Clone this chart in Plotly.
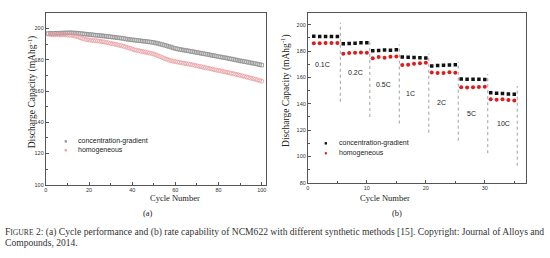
import plotly.graph_objects as go

# ---------------- (a) cycle performance ----------------
cycles_a = list(range(1, 101))
grad_a = [196.8, 196.9, 196.7, 196.9, 197.0, 196.8, 197.1, 197.0, 197.2, 197.1,
          197.3, 197.2, 197.0, 197.1, 196.9, 196.8, 196.6, 196.5, 196.3, 196.2,
          196.0, 195.9, 195.7, 195.6, 195.5, 195.3, 195.2, 195.0, 194.8, 194.7,
          194.5, 194.4, 194.1, 194.0, 193.8, 193.6, 193.3, 193.1, 192.9, 192.7,
          192.6, 192.4, 192.3, 192.1, 191.9, 191.8, 191.6, 191.4, 191.2, 191.0,
          190.7, 190.4, 190.0, 189.7, 189.3, 188.9, 188.5, 188.1, 187.6, 187.2,
          186.9, 186.6, 186.4, 186.1, 185.9, 185.7, 185.4, 185.2, 184.9, 184.6,
          184.4, 184.1, 183.9, 183.6, 183.4, 183.1, 182.8, 182.6, 182.3, 182.0,
          181.8, 181.5, 181.3, 181.0, 180.7, 180.5, 180.2, 179.9, 179.6, 179.3,
          179.1, 178.8, 178.6, 178.3, 178.0, 177.8, 177.5, 177.2, 176.9, 176.6]
homo_a = [196.4, 196.2, 196.0, 195.9, 196.1, 195.9, 195.8, 196.0, 195.9, 195.8,
          195.7, 195.6, 195.3, 195.0, 194.6, 194.1, 193.6, 193.2, 192.9, 192.6,
          192.5, 192.3, 192.2, 192.0, 191.8, 191.6, 191.4, 191.1, 190.8, 190.5,
          190.2, 190.0, 189.6, 189.3, 189.0, 188.6, 188.2, 187.7, 187.3, 186.8,
          186.4, 186.1, 185.8, 185.5, 185.2, 184.9, 184.6, 184.3, 184.0, 183.6,
          183.1, 182.6, 182.0, 181.4, 180.8, 180.3, 179.8, 179.4, 179.1, 178.8,
          178.5, 178.3, 178.0, 177.8, 177.5, 177.3, 177.0, 176.7, 176.4, 176.1,
          175.8, 175.5, 175.2, 174.9, 174.6, 174.3, 174.0, 173.7, 173.4, 173.1,
          172.8, 172.5, 172.2, 171.9, 171.6, 171.3, 171.0, 170.7, 170.4, 170.0,
          169.7, 169.3, 169.0, 168.6, 168.2, 167.9, 167.5, 167.1, 166.7, 166.3]

# ---------------- (b) rate capability ----------------
cycles_b = list(range(1, 36))
grad_b = [191.2, 191.0, 191.1, 191.0, 191.1,
          185.6, 185.8, 185.9, 186.3, 186.4,
          180.2, 180.5, 180.9, 180.7, 181.0,
          175.5, 175.4, 175.2, 175.0, 174.8,
          168.6, 169.0, 169.3, 169.4, 169.6,
          158.8, 158.7, 158.6, 158.6, 158.5,
          148.3, 148.0, 147.8, 147.5, 147.2]
homo_b = [186.0, 186.0, 186.1, 186.1, 186.2,
          178.0, 178.6, 178.8, 179.0, 178.8,
          174.5, 175.5, 175.0, 175.6, 175.8,
          169.5, 169.7, 170.3, 170.8, 171.2,
          163.8, 163.3, 163.3, 164.0, 163.5,
          152.5, 152.4, 152.5, 152.7, 153.0,
          143.4, 143.0, 143.5, 142.8, 142.4]
rate_labels = ["0.1C", "0.2C", "0.5C", "1C", "2C", "5C", "10C"]
rate_label_x = [2.5, 8.1, 12.8, 17.4, 22.6, 27.8, 33.2]
rate_label_y = [170, 164, 155, 148, 141, 132.5, 125]
sep_x = [5.5, 10.5, 15.5, 20.5, 25.5, 30.5, 35.5]
sep_top = [201.5, 188.5, 185, 178, 172, 162.5, 153.5]
sep_bottom = [141.5, 130, 125, 118, 112, 102.5, 93]

series_names = ["concentration-gradient", "homogeneous"]

W, H = 550, 258
def px_x(p): return p / W
def px_y(p): return 1 - p / H

fig = go.Figure()

fig.add_trace(go.Scatter(x=cycles_a, y=grad_a, mode="markers", xaxis="x", yaxis="y",
                         marker=dict(symbol="square-open", size=3.6, color="#8e8e8e", line=dict(width=0.8)),
                         showlegend=False, name=series_names[0]))
fig.add_trace(go.Scatter(x=cycles_a, y=homo_a, mode="markers", xaxis="x", yaxis="y",
                         marker=dict(symbol="circle-open", size=4, color="#e89aa0", line=dict(width=0.8)),
                         showlegend=False, name=series_names[1]))

# separators
sx, sy = [], []
for x, b, t in zip(sep_x, sep_bottom, sep_top):
    sx += [x, x, None]
    sy += [b, t, None]
fig.add_trace(go.Scatter(x=sx, y=sy, mode="lines", xaxis="x2", yaxis="y2",
                         line=dict(color="#a0a0a0", width=1, dash="dot"), showlegend=False,
                         hoverinfo="skip"))
fig.add_trace(go.Scatter(x=cycles_b, y=grad_b, mode="markers", xaxis="x2", yaxis="y2",
                         marker=dict(symbol="square", size=3.5, color="#111111"),
                         showlegend=False, name=series_names[0]))
fig.add_trace(go.Scatter(x=cycles_b, y=homo_b, mode="markers", xaxis="x2", yaxis="y2",
                         marker=dict(symbol="circle", size=4, color="#e01b1b"),
                         showlegend=False, name=series_names[1]))

axcol = "#555555"
tickfont = dict(family="Liberation Sans, Arial", size=5.5, color="#333")
common = dict(showline=True, linecolor=axcol, linewidth=1, mirror=True, ticks="inside",
              ticklen=3, tickcolor=axcol, tickwidth=1, showgrid=False, zeroline=False,
              tickfont=tickfont)

fig.update_layout(
    width=W, height=H, margin=dict(l=0, r=0, t=0, b=0),
    paper_bgcolor="white", plot_bgcolor="white", showlegend=False,
    xaxis=dict(domain=[px_x(44), px_x(265)], range=[0, 102], anchor="y",
               tickmode="linear", tick0=0, dtick=20,
               minor=dict(dtick=10, ticklen=2, ticks="inside", tickcolor=axcol), **common),
    yaxis=dict(domain=[px_y(187), px_y(13)], range=[100, 210], anchor="x",
               tickmode="linear", tick0=100, dtick=20,
               minor=dict(dtick=10, ticklen=2, ticks="inside", tickcolor=axcol), **common),
    xaxis2=dict(domain=[px_x(307), px_x(526)], range=[0, 37], anchor="y2",
                tickmode="linear", tick0=0, dtick=10,
                minor=dict(dtick=5, ticklen=2, ticks="inside", tickcolor=axcol), **common),
    yaxis2=dict(domain=[px_y(185), px_y(13)], range=[80, 209], anchor="x2",
                tickmode="linear", tick0=80, dtick=20,
                minor=dict(dtick=10, ticklen=2, ticks="inside", tickcolor=axcol), **common),
)

serif = "Liberation Serif, Times New Roman, serif"
ann = []
for lab, x, y in zip(rate_labels, rate_label_x, rate_label_y):
    ann.append(dict(text=lab, x=x, y=y, xref="x2", yref="y2", showarrow=False,
                    font=dict(family="Liberation Sans, Arial", size=7, color="#222")))

# axis titles
for cx in (147, 411):
    ann.append(dict(text="Cycle Number", x=px_x(cx), y=px_y(207), xref="paper", yref="paper",
                    showarrow=False, font=dict(family=serif, size=8.5, color="#222")))
ann.append(dict(text="(a)", x=px_x(140), y=px_y(223), xref="paper", yref="paper",
                showarrow=False, font=dict(family=serif, size=8.5, color="#222")))
ann.append(dict(text="(b)", x=px_x(403), y=px_y(223), xref="paper", yref="paper",
                showarrow=False, font=dict(family=serif, size=8.5, color="#222")))
ytitle = "Discharge Capacity (mAhg<sup>-1</sup>)"
ann.append(dict(text=ytitle, x=px_x(22), y=px_y(93), xref="paper", yref="paper", textangle=-90,
                showarrow=False, font=dict(family=serif, size=9.5, color="#222")))
ann.append(dict(text=ytitle, x=px_x(285), y=px_y(91), xref="paper", yref="paper", textangle=-90,
                showarrow=False, font=dict(family=serif, size=9.5, color="#222")))

# legends
legend_a = [(143, "#9a9a9a", "square"), (152, "#eaa8ad", "square")]
legend_b = [(145, "#111111", "square"), (155, "#e01b1b", "circle")]
shapes = []
for (yy, col, shp), name in zip(legend_a, series_names):
    shapes.append(dict(type="rect", xref="paper", yref="paper",
                       x0=px_x(62.8), x1=px_x(65.2), y0=px_y(yy + 1.2), y1=px_y(yy - 1.2),
                       fillcolor=col, line=dict(width=0)))
    ann.append(dict(text=name, x=px_x(74), y=px_y(yy), xref="paper", yref="paper", xanchor="left",
                    showarrow=False, font=dict(family="Liberation Sans, Arial", size=7, color="#222")))
for (yy, col, shp), name in zip(legend_b, series_names):
    shapes.append(dict(type="rect" if shp == "square" else "circle", xref="paper", yref="paper",
                       x0=px_x(323.8), x1=px_x(326.2), y0=px_y(yy + 1.2), y1=px_y(yy - 1.2),
                       fillcolor=col, line=dict(width=0)))
    ann.append(dict(text=name, x=px_x(336), y=px_y(yy), xref="paper", yref="paper", xanchor="left",
                    showarrow=False, font=dict(family="Liberation Sans, Arial", size=7, color="#222")))

# caption
cap1 = ("F<span style='font-size:7.6px'>IGURE</span> 2: (a) Cycle performance and (b) rate capability of "
        "NCM622 with different synthetic methods [15]. Copyright: Journal of Alloys and")
cap2 = "Compounds, 2014."
ann.append(dict(text=cap1, x=px_x(1), y=px_y(243), xref="paper", yref="paper", xanchor="left",
                showarrow=False, font=dict(family=serif, size=9.6, color="#333")))
ann.append(dict(text=cap2, x=px_x(1), y=px_y(253), xref="paper", yref="paper", xanchor="left",
                showarrow=False, font=dict(family=serif, size=9.6, color="#333")))

fig.update_layout(annotations=ann, shapes=shapes)
fig.write_html("out.html")
